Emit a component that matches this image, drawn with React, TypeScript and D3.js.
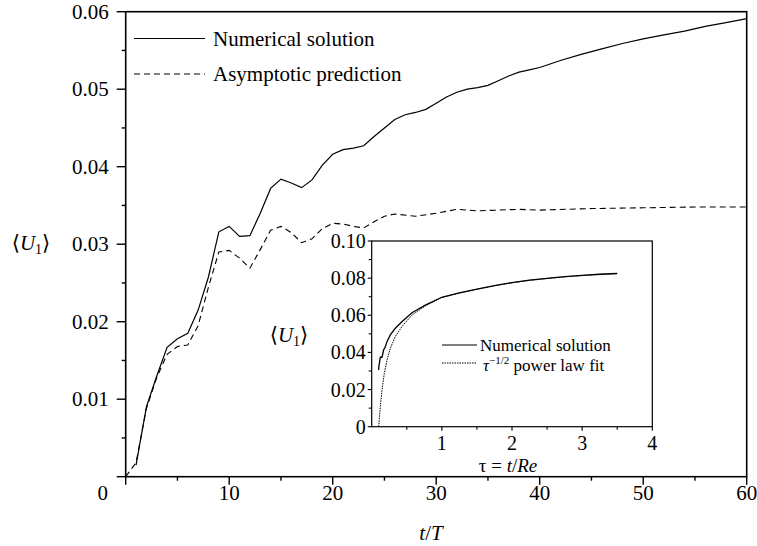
import React from "react";
import * as d3 from "d3";

// Main chart: numerical solution <U1> vs t/T
const numT = [1, 2, 3, 4, 5, 6, 7, 8, 9, 10, 11, 12, 13, 14, 15, 16, 17, 18, 19, 20, 21, 22, 23, 24, 25, 26, 27, 28, 29, 30, 31, 32, 33, 34, 35, 36, 37, 38, 39, 40, 42, 44, 46, 48, 50, 52, 54, 56, 58, 60];
const numU = [0.0015, 0.0090, 0.0130, 0.0167, 0.0178, 0.0185, 0.0215, 0.0258, 0.0316, 0.0323, 0.0310, 0.0311, 0.0340, 0.0372, 0.0384, 0.0379, 0.0373, 0.0383, 0.0402, 0.0416, 0.0422, 0.0424, 0.0427, 0.0439, 0.0450, 0.0461, 0.0467, 0.0470, 0.0474, 0.0482, 0.0490, 0.0496, 0.0500, 0.0502, 0.0505, 0.0511, 0.0517, 0.0522, 0.0525, 0.0528, 0.0537, 0.0545, 0.0552, 0.0559, 0.0565, 0.0570, 0.0575, 0.0581, 0.0586, 0.0591];

// Asymptotic prediction
const asyT = [0, 1, 2, 3, 4, 5, 6, 7, 8, 9, 10, 11, 12, 13, 14, 15, 16, 17, 18, 19, 20, 21, 22, 23, 24, 25, 26, 28, 30, 32, 34, 36, 38, 40, 45, 50, 55, 60];
const asyU = [0, 0.0018, 0.0088, 0.0128, 0.0158, 0.0168, 0.0170, 0.0195, 0.0245, 0.0290, 0.0292, 0.0282, 0.0269, 0.0293, 0.0318, 0.0323, 0.0315, 0.0302, 0.0307, 0.0320, 0.0327, 0.0326, 0.0323, 0.0321, 0.0329, 0.0336, 0.0339, 0.0336, 0.0340, 0.0345, 0.0343, 0.0344, 0.0345, 0.0344, 0.0346, 0.0347, 0.0348, 0.0348];

// Inset: numerical solution vs tau
const insNumTau = [0.10, 0.10, 0.123, 0.147, 0.17, 0.194, 0.218, 0.265, 0.336, 0.43, 0.574, 0.764, 1.0, 1.25, 1.5, 1.75, 2.0, 2.25, 2.5, 2.75, 3.0, 3.25, 3.5];
const insNumU = [0.0305, 0.0318, 0.0374, 0.0374, 0.0413, 0.0430, 0.0458, 0.0494, 0.0530, 0.0565, 0.0614, 0.0655, 0.0697, 0.0721, 0.0741, 0.0760, 0.0776, 0.0789, 0.0799, 0.0808, 0.0815, 0.0821, 0.0825];

// Inset: tau^-1/2 power law fit
const insFitTau = [0.10, 0.123, 0.147, 0.18, 0.218, 0.265, 0.336, 0.43, 0.574, 0.764, 1.0, 1.25, 1.5, 1.75, 2.0, 2.25, 2.5, 2.75, 3.0, 3.25, 3.5];
const insFitU = [0, 0.0108, 0.0198, 0.0288, 0.0359, 0.0422, 0.0485, 0.0539, 0.0601, 0.0650, 0.0697, 0.0720, 0.0740, 0.0759, 0.0775, 0.0788, 0.0798, 0.0807, 0.0814, 0.0820, 0.0825];

const xMajor = [10, 20, 30, 40, 50, 60];
const xMinor = [5, 15, 25, 35, 45, 55];
const yMajor = [0.01, 0.02, 0.03, 0.04, 0.05, 0.06];
const yMinor = [0.005, 0.015, 0.025, 0.035, 0.045, 0.055];
const ixMajor = [1, 2, 3, 4];
const ixMinor = [0.5, 1.5, 2.5, 3.5];
const iyMajor = [0, 0.02, 0.04, 0.06, 0.08, 0.1];
const iyMinor = [0.01, 0.03, 0.05, 0.07, 0.09];

const FONT = "'Liberation Serif', 'Times New Roman', 'DejaVu Serif', serif";

function ULabel({ x, y }: { x: number; y: number }) {
  return (
    <text x={x} y={y} fontSize={21} textAnchor="middle">
      <tspan fontFamily="'DejaVu Serif', serif" fontSize={21}>⟨</tspan>
      <tspan fontStyle="italic">U</tspan>
      <tspan fontSize={14} dy={4}>1</tspan>
      <tspan fontFamily="'DejaVu Serif', serif" fontSize={21} dy={-4}>⟩</tspan>
    </text>
  );
}

export default function App() {
  const x = d3.scaleLinear().domain([0, 60]).range([125.7, 746.7]);
  const y = d3.scaleLinear().domain([0, 0.06]).range([476.7, 11.7]);
  const ix = d3.scaleLinear().domain([0, 4]).range([371.7, 652.3]);
  const iy = d3.scaleLinear().domain([0, 0.1]).range([426.7, 241]);

  const mainLine = d3.line<[number, number]>().x((d) => x(d[0])).y((d) => y(d[1]));
  const insLine = d3.line<[number, number]>().x((d) => ix(d[0])).y((d) => iy(d[1]));

  const numPts = numT.map((t, i) => [t, numU[i]] as [number, number]);
  const asyPts = asyT.map((t, i) => [t, asyU[i]] as [number, number]);
  const insNumPts = insNumTau.map((t, i) => [t, insNumU[i]] as [number, number]);
  const insFitPts = insFitTau.map((t, i) => [t, insFitU[i]] as [number, number]);

  const x0 = x(0), x1 = x(60), y0 = y(0), y1 = y(0.06);
  const ix0 = ix(0), ix1 = ix(4), iy0 = iy(0), iy1 = iy(0.1);

  return (
    <svg width={757} height={546} style={{ position: "absolute", left: 0, top: 0, background: "#fff" }} fontFamily={FONT}>
      <rect x={0} y={0} width={757} height={546} fill="#fff" />
      {/* main frame */}
      <rect x={x0} y={y1} width={x1 - x0} height={y0 - y1} fill="none" stroke="#000" strokeWidth={1.6} />
      {/* main x ticks */}
      {xMajor.map((v) => (
        <g key={"xM" + v}>
          <line x1={x(v)} x2={x(v)} y1={y0} y2={y0 + 8} stroke="#000" strokeWidth={1.4} />
          <text x={x(v)} y={y0 + 23} fontSize={21} textAnchor="middle">{v}</text>
        </g>
      ))}
      <line x1={x0} x2={x0} y1={y0} y2={y0 + 8} stroke="#000" strokeWidth={1.4} />
      {xMinor.map((v) => (
        <line key={"xm" + v} x1={x(v)} x2={x(v)} y1={y0} y2={y0 + 4} stroke="#000" strokeWidth={1.4} />
      ))}
      <text x={x0 - 23} y={y0 + 23} fontSize={21} textAnchor="middle">0</text>
      {/* main y ticks */}
      {yMajor.map((v) => (
        <g key={"yM" + v}>
          <line x1={x0 - 9} x2={x0} y1={y(v)} y2={y(v)} stroke="#000" strokeWidth={1.4} />
          <text x={x0 - 17} y={y(v) + 7} fontSize={21} textAnchor="end">{v.toFixed(2)}</text>
        </g>
      ))}
      <line x1={x0 - 9} x2={x0} y1={y0} y2={y0} stroke="#000" strokeWidth={1.4} />
      {yMinor.map((v) => (
        <line key={"ym" + v} x1={x0 - 4} x2={x0} y1={y(v)} y2={y(v)} stroke="#000" strokeWidth={1.4} />
      ))}
      {/* axis titles */}
      <ULabel x={31} y={250} />
      <text x={431} y={540} fontSize={21} textAnchor="middle">
        <tspan fontStyle="italic">t</tspan>/<tspan fontStyle="italic">T</tspan>
      </text>
      {/* main curves */}
      <path d={mainLine(asyPts) || ""} fill="none" stroke="#000" strokeWidth={1.1} strokeDasharray="6,4" />
      <path d={mainLine(numPts) || ""} fill="none" stroke="#000" strokeWidth={1.2} />
      {/* main legend */}
      <line x1={134} x2={205} y1={38.5} y2={38.5} stroke="#000" strokeWidth={1.2} />
      <text x={213} y={46} fontSize={21}>Numerical solution</text>
      <line x1={134} x2={205} y1={74} y2={74} stroke="#000" strokeWidth={1.1} strokeDasharray="6,4" />
      <text x={213} y={81} fontSize={21}>Asymptotic prediction</text>

      {/* inset */}
      <rect x={ix0} y={iy1} width={ix1 - ix0} height={iy0 - iy1} fill="#fff" stroke="#000" strokeWidth={1.2} />
      {ixMajor.map((v) => (
        <g key={"ixM" + v}>
          <line x1={ix(v)} x2={ix(v)} y1={iy0} y2={iy0 + 4} stroke="#000" strokeWidth={1.1} />
          <text x={ix(v)} y={iy0 + 23} fontSize={20} textAnchor="middle">{v}</text>
        </g>
      ))}
      {ixMinor.map((v) => (
        <line key={"ixm" + v} x1={ix(v)} x2={ix(v)} y1={iy0} y2={iy0 + 3} stroke="#000" strokeWidth={1.1} />
      ))}
      {iyMajor.map((v) => (
        <g key={"iyM" + v}>
          <line x1={ix0 - 4} x2={ix0} y1={iy(v)} y2={iy(v)} stroke="#000" strokeWidth={1.1} />
          <text x={ix0 - 6} y={iy(v) + 7} fontSize={20} textAnchor="end">{v === 0 ? "0" : v.toFixed(2)}</text>
        </g>
      ))}
      {iyMinor.map((v) => (
        <line key={"iym" + v} x1={ix0 - 3} x2={ix0} y1={iy(v)} y2={iy(v)} stroke="#000" strokeWidth={1.1} />
      ))}
      <ULabel x={289} y={342} />
      <text x={508} y={472} fontSize={19} textAnchor="middle">
        τ = <tspan fontStyle="italic">t</tspan>/<tspan fontStyle="italic">Re</tspan>
      </text>
      <path d={insLine(insFitPts) || ""} fill="none" stroke="#000" strokeWidth={1} strokeDasharray="1.5,1" />
      <path d={insLine(insNumPts) || ""} fill="none" stroke="#000" strokeWidth={1.3} />
      {/* inset legend */}
      <line x1={442} x2={477} y1={345} y2={345} stroke="#000" strokeWidth={1.2} />
      <text x={480} y={351} fontSize={17}>Numerical solution</text>
      <line x1={442} x2={477} y1={363} y2={363} stroke="#000" strokeWidth={1} strokeDasharray="1.5,1" />
      <text x={483} y={371} fontSize={17}>
        <tspan fontStyle="italic">τ</tspan>
        <tspan fontSize={11} dy={-7}>−1/2</tspan>
        <tspan dy={7}> power law fit</tspan>
      </text>
    </svg>
  );
}
